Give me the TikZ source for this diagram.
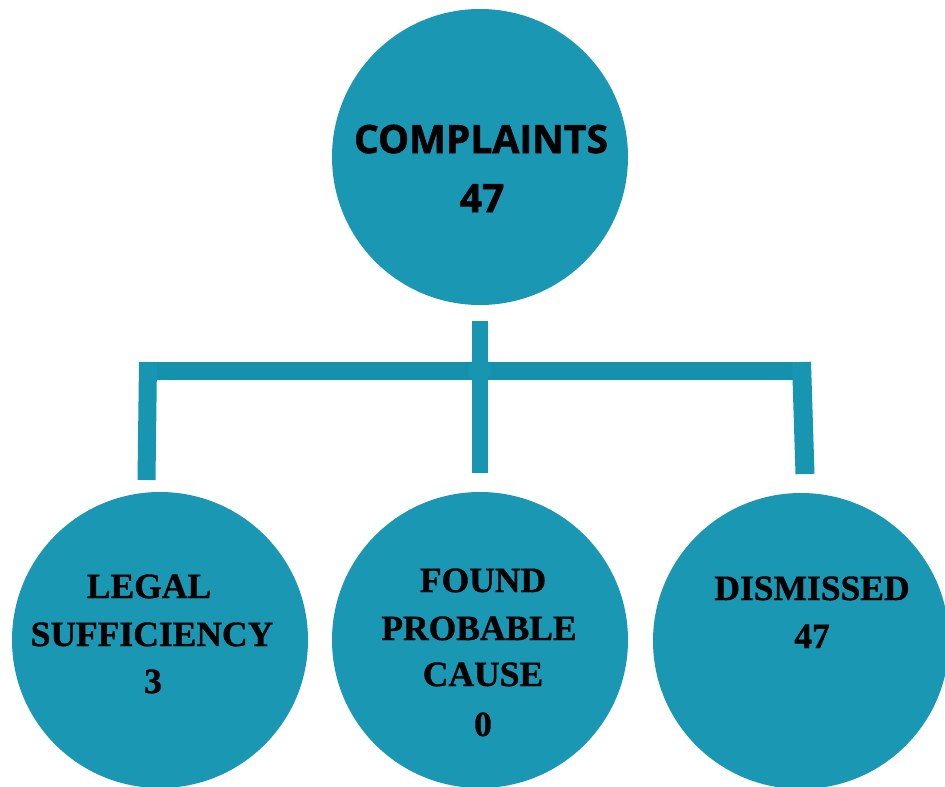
\documentclass[tikz,border=0pt]{standalone}
\usepackage{fontspec}
\setmainfont{Liberation Serif}[BoldFeatures={FakeBold=1}]
\newfontfamily\topfont{Open Sans}[BoldFeatures={FakeBold=1.5}]
\definecolor{discfill}{HTML}{1997B3}
\definecolor{stemcol}{HTML}{1795B1}
\definecolor{hbarcol}{HTML}{1591AD}
\begin{document}
\begin{tikzpicture}[x=1pt,y=-1pt,
  disc/.style={circle, fill=discfill, minimum size=296pt, inner sep=0pt},
  stembar/.style={draw=stemcol, line width=#1, line cap=butt},
  hbar/.style={draw=hbarcol, line width=18pt, line cap=butt},
  serifline/.style={anchor=base, inner sep=0pt, font=\fontsize{35.5}{40}\selectfont\bfseries},
  sansline/.style={anchor=base, inner sep=0pt, font=\topfont\fontsize{39}{42}\selectfont\bfseries}]
\useasboundingbox (0,0) rectangle (945,787);
\fill[white] (0,0) rectangle (945,787);
\begin{scope}
\clip (0,0) rectangle (945,787);
% circles
\node[disc] (top) at (480,157) {};
\node[disc] (left) at (160,640) {};
\node[disc] (mid) at (480,640) {};
\node[disc] (right) at (801,641) {};
% connector coordinates
\coordinate (mtop) at (480,321);
\coordinate (mbot) at (480,473);
\coordinate (ltop) at (148,362);
\coordinate (lbot) at (146.5,480);
\coordinate (rtop) at (801.5,362);
\coordinate (rbot) at (805,474);
\coordinate (hl) at (157,371);
\coordinate (hr) at (793,371);
% connectors
\draw[hbar] (hl) -- (hr);
\draw[stembar=18pt] (ltop) -- (lbot);
\draw[stembar=19pt] (rtop) -- (rbot);
\draw[stembar=16pt] (mtop) -- (mbot);
\node[circle, fill=stemcol, minimum size=23pt, inner sep=0pt] (junction) at (479.5,371) {};
% texts
\node[sansline] (t1) at (481,153) {COMPLAINTS};
\node[sansline] (t2) at (482,212) {47};
\node[serifline] (l1) at (149,598) {LEGAL};
\node[serifline] (l2) at (152,646) {SUFFICIENCY};
\node[serifline] (l3) at (153,693) {3};
\node[serifline] (m1) at (483,592) {FOUND};
\node[serifline] (m2) at (479,640) {PROBABLE};
\node[serifline] (m3) at (483,686) {CAUSE};
\node[serifline] (m4) at (483,736) {0};
\node[serifline] (r1) at (812,600) {DISMISSED};
\node[serifline] (r2) at (812,648) {47};
\end{scope}
\end{tikzpicture}
\end{document}
